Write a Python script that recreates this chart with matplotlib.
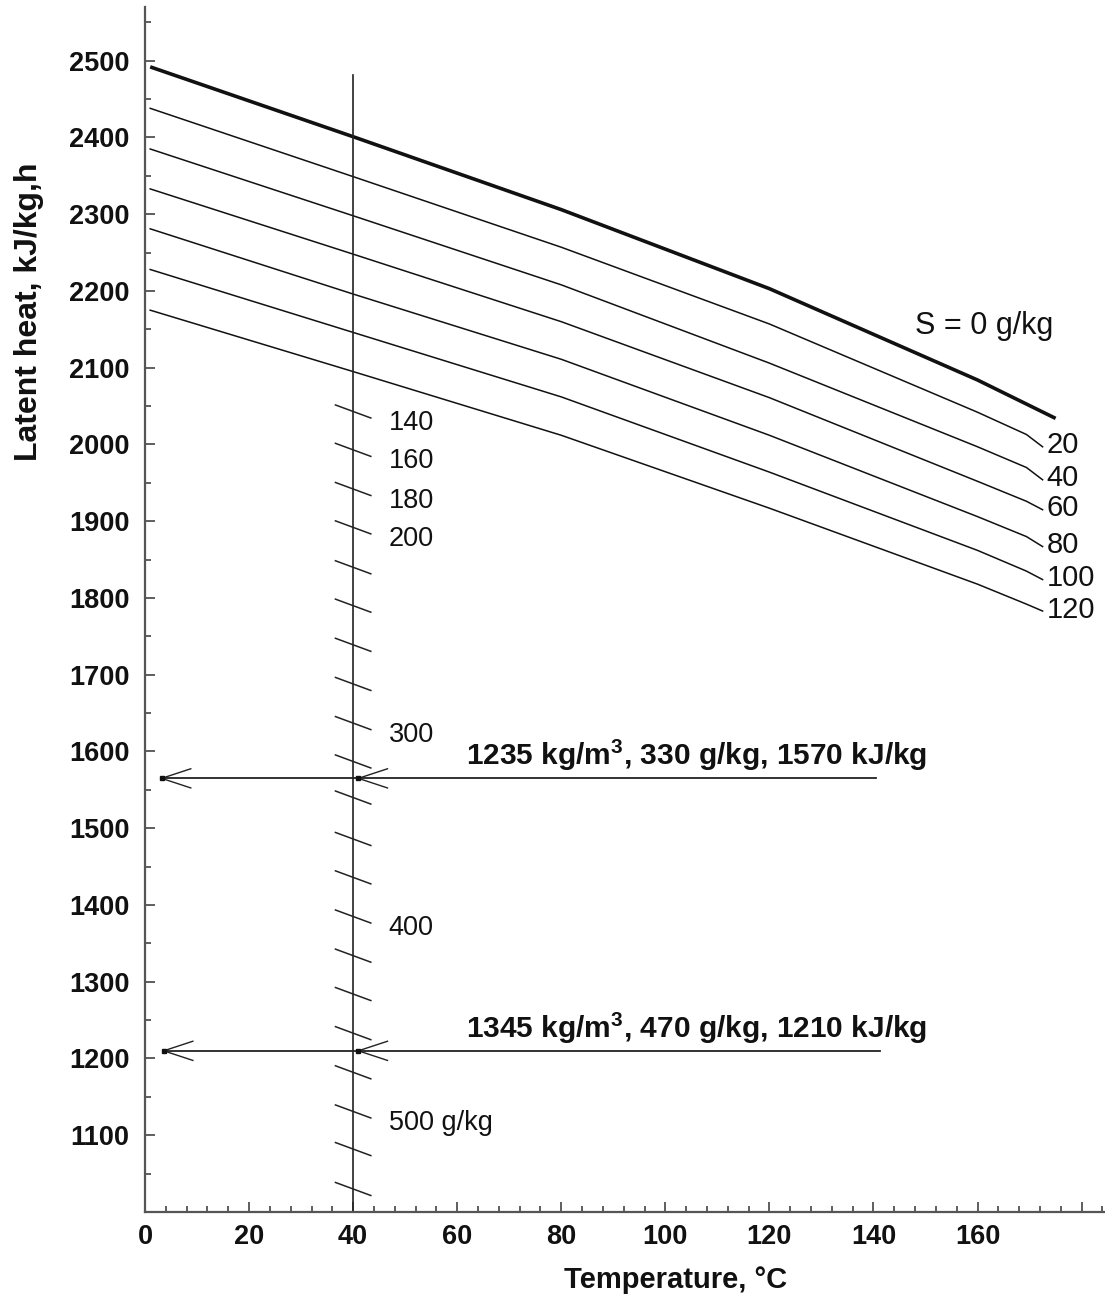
import matplotlib
matplotlib.use('Agg')
import matplotlib.pyplot as plt
import numpy as np

plt.rcParams['font.family'] = ['Liberation Sans', 'DejaVu Sans']
plt.rcParams['mathtext.fontset'] = 'custom'
plt.rcParams['mathtext.rm'] = 'Liberation Sans'
plt.rcParams['mathtext.bf'] = 'Liberation Sans:bold'

# ---------------- data ----------------
# pure water curve (S = 0 g/kg)
temp_s0 = [1, 40, 80, 120, 160, 175]
heat_s0 = [2492, 2401, 2306, 2203, 2084, 2034]

# saline curves; last point is the end of the small leader to the label
temp_s = [1, 40, 80, 120, 160, 169.4, 172.5]
salinity = [20, 40, 60, 80, 100, 120]
heat_s20 = [2438, 2349, 2257, 2157, 2042, 2013, 1997]
heat_s40 = [2385, 2298, 2208, 2106, 1997, 1970, 1954]
heat_s60 = [2333, 2248, 2160, 2061, 1952, 1926, 1915]
heat_s80 = [2281, 2196, 2111, 2012, 1906, 1880, 1867]
heat_s100 = [2228, 2146, 2062, 1964, 1862, 1835, 1824]
heat_s120 = [2175, 2095, 2012, 1917, 1818, 1792, 1783]
heat_saline = [heat_s20, heat_s40, heat_s60, heat_s80, heat_s100, heat_s120]

# salinity scale on the 40 degC line
scale_temp = 40
scale_salinity = list(range(140, 541, 20))
scale_heat = [2043, 1993, 1942, 1892, 1840, 1790, 1739, 1688, 1637, 1587, 1540,
              1486, 1436, 1385, 1334, 1284, 1233, 1182, 1131, 1082, 1030]
scale_labeled = {140: '140', 160: '160', 180: '180', 200: '200',
                 300: '300', 400: '400', 500: '500 g/kg'}

# worked examples
example_heat = [1565, 1210]
example_text = [r'1235 kg/m$^{\mathbf{3}}$, 330 g/kg, 1570 kJ/kg',
                r'1345 kg/m$^{\mathbf{3}}$, 470 g/kg, 1210 kJ/kg']

x_major = list(range(0, 181, 20))
x_labels = ['0', '20', '40', '60', '80', '100', '120', '140', '160', '']
y_major = list(range(1100, 2501, 100))

# ---------------- figure ----------------
W, H = 1105, 1298
fig = plt.figure(figsize=(W / 100, H / 100), dpi=100)
ax = fig.add_axes([145 / W, 86 / H, 959 / W, 1205 / H])
ax.set_xlim(0, 184.3)
ax.set_ylim(1000, 2570)

for s in ['top', 'right']:
    ax.spines[s].set_visible(False)
for s in ['left', 'bottom']:
    ax.spines[s].set_color('#555555')
    ax.spines[s].set_linewidth(1.6)

ax.set_xticks(x_major)
ax.set_xticklabels(x_labels)
ax.set_xticks(np.arange(0, 185, 4), minor=True)
ax.set_yticks(y_major)
ax.set_yticks(np.arange(1050, 2560, 50), minor=True)
ax.tick_params(which='both', direction='in', color='#333333', width=1.1)
ax.tick_params(which='major', length=7.5)
ax.tick_params(which='minor', length=4.5)
ax.tick_params(axis='x', which='major', pad=9)
ax.tick_params(axis='y', which='major', pad=11)
for lab in ax.get_xticklabels() + ax.get_yticklabels():
    lab.set_fontsize(19.5)
    lab.set_fontweight('bold')
    lab.set_color('#111111')

# curves
ax.plot(temp_s0, heat_s0, color='#111111', lw=2.6, solid_capstyle='butt',
        solid_joinstyle='round')
for s, h in zip(salinity, heat_saline):
    ax.plot(temp_s, h, color='#111111', lw=1.1, solid_joinstyle='round')
    ax.text(173.3, h[-1] + 2, str(s), fontsize=21, ha='left', va='center',
            color='#111111')
ax.text(147.9, 2154, 'S = 0 g/kg', fontsize=22, ha='left', va='center',
        color='#111111')

# vertical 40 degC line with salinity scale
ax.plot([scale_temp, scale_temp], [1000, 2481], color='#222222', lw=1.2)
for s, h in zip(scale_salinity, scale_heat):
    ax.plot([scale_temp - 3.4, scale_temp + 3.4], [h + 8.5, h - 8.5],
            color='#222222', lw=1.1)
    if s in scale_labeled:
        ax.text(scale_temp + 6.8, h - 15, scale_labeled[s], fontsize=19.5,
                ha='left', va='center', color='#111111')

# example arrows
left_tips = [3.2, 3.6]
right_ends = [140.5, 141.2]
for h, txt, lt, re in zip(example_heat, example_text, left_tips, right_ends):
    ax.plot([lt, re], [h, h], color='#222222', lw=1.3)
    for tip in (lt, scale_temp + 1.0):
        ax.plot([tip + 5.6, tip, tip + 5.6], [h + 12.5, h, h - 12.5],
                color='#222222', lw=1.0)
        ax.plot([tip], [h], marker='s', ms=3, color='#111111')
    ax.text(61.7, h + 30, txt, fontsize=21.5, fontweight='bold', ha='left',
            va='center', color='#111111')

# axis labels
fig.text(676 / W, 1 - 1280 / H, 'Temperature, \u00b0C', fontsize=21,
         fontweight='bold', ha='center', va='center', color='#111111')
fig.text(29 / W, 1 - 312 / H, 'Latent heat, kJ/kg,h', fontsize=23,
         fontweight='bold', ha='center', va='center', rotation=90,
         color='#111111')

fig.savefig('out.png', dpi=100)
